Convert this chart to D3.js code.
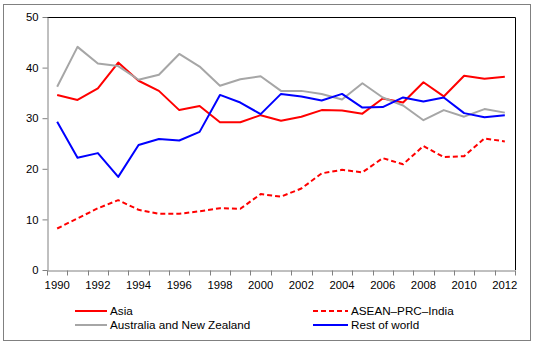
<!DOCTYPE html>
<html><head><meta charset="utf-8">
<script src="https://cdn.jsdelivr.net/npm/d3@7"></script>
<style>body{margin:0;background:#fff}svg{display:block}text{font-family:"Liberation Sans",Arial,sans-serif;font-size:11px;fill:#000}</style>
</head><body><svg id="c" width="535" height="345"></svg>
<script>
const years = d3.range(1990, 2013);
const asia = [34.6,33.6,35.9,41.0,37.4,35.4,31.6,32.4,29.2,29.2,30.6,29.5,30.3,31.6,31.5,30.9,33.9,33.1,37.1,34.3,38.4,37.8,38.2];
const aseanPrcIndia = [8.2,10.2,12.2,13.8,11.9,11.1,11.1,11.6,12.2,12.1,15.0,14.5,16.1,19.1,19.8,19.3,22.1,20.9,24.5,22.3,22.5,26.0,25.4];
const ausNz = [36.2,44.1,40.8,40.3,37.6,38.6,42.7,40.2,36.4,37.7,38.3,35.4,35.4,34.8,33.7,36.9,34.1,32.5,29.6,31.6,30.3,31.8,31.1];
const restOfWorld = [29.3,22.2,23.1,18.4,24.7,25.9,25.6,27.3,34.6,33.1,30.8,34.8,34.3,33.5,34.8,32.1,32.2,34.1,33.3,34.1,31.0,30.2,30.6];
const yTicks = [0,10,20,30,40,50];

const series = [
  {name:"Asia", values:asia, color:"#FF0000", dash:null},
  {name:"ASEAN\u2013PRC\u2013India", values:aseanPrcIndia, color:"#FF0000", dash:"5,3"},
  {name:"Australia and New Zealand", values:ausNz, color:"#A6A6A6", dash:null},
  {name:"Rest of world", values:restOfWorld, color:"#0000FF", dash:null}
];

const svg = d3.select("#c");
const L=47, R=515, T=17, B=270;
const x = d3.scaleBand().domain(years).range([L,R]).padding(0);
const y = d3.scaleLinear().domain([0,50]).range([B,T]);

svg.append("rect").attr("x",3.5).attr("y",4.5).attr("width",527).attr("height",336)
  .attr("fill","none").attr("stroke","#808080");

// plot frame top/right black
svg.append("path").attr("d",`M${L},${T+0.5}H${R+0.5}V${B}`).attr("fill","none").attr("stroke","#000");

// lines
const line = d3.line().x((d,i)=>x(years[i])+x.bandwidth()/2).y(d=>y(d));
series.forEach(s=>{
  svg.append("path").datum(s.values).attr("d",line).attr("fill","none")
    .attr("stroke",s.color).attr("stroke-width",2).attr("stroke-linejoin","round")
    .attr("stroke-dasharray",s.dash);
});

// y axis
const ya = svg.append("g").attr("transform",`translate(${L+0.5},0)`)
  .call(d3.axisLeft(y).tickValues(yTicks).tickSize(5).tickPadding(4).tickSizeOuter(0));
ya.select(".domain").attr("stroke","#808080");
ya.selectAll(".tick line").attr("stroke","#808080");
ya.selectAll("text").style("font-size","11.3px").attr("fill","#000");

// x axis
const xa = svg.append("g").attr("transform",`translate(0,${B+0.5})`)
  .call(d3.axisBottom(x).tickSize(0).tickPadding(10).tickFormat(d=>d%2===0?d:""));
xa.select(".domain").attr("stroke","#808080");
xa.selectAll("text").style("font-size","11.3px").attr("fill","#000");
const bounds = years.map(d=>x(d)).concat([R]);
xa.selectAll(".bt").data(bounds).enter().append("line")
  .attr("x1",d=>Math.round(d)+0.5).attr("x2",d=>Math.round(d)+0.5).attr("y1",0).attr("y2",5).attr("stroke","#808080");

// legend
const leg = [
  {s:series[0], lx:75, ty:311},
  {s:series[1], lx:313, ty:311},
  {s:series[2], lx:75, ty:325},
  {s:series[3], lx:313, ty:325}
];
leg.forEach(d=>{
  const w = d.lx===75?32:35;
  svg.append("line").attr("x1",d.lx).attr("x2",d.lx+w).attr("y1",d.ty).attr("y2",d.ty)
    .attr("stroke",d.s.color).attr("stroke-width",2).attr("stroke-dasharray",d.s.dash);
  svg.append("text").attr("x",d.lx+w+3).attr("y",d.ty).attr("dy","0.35em")
    .style("font-size","11.7px").text(d.s.name);
});
</script></body></html>
